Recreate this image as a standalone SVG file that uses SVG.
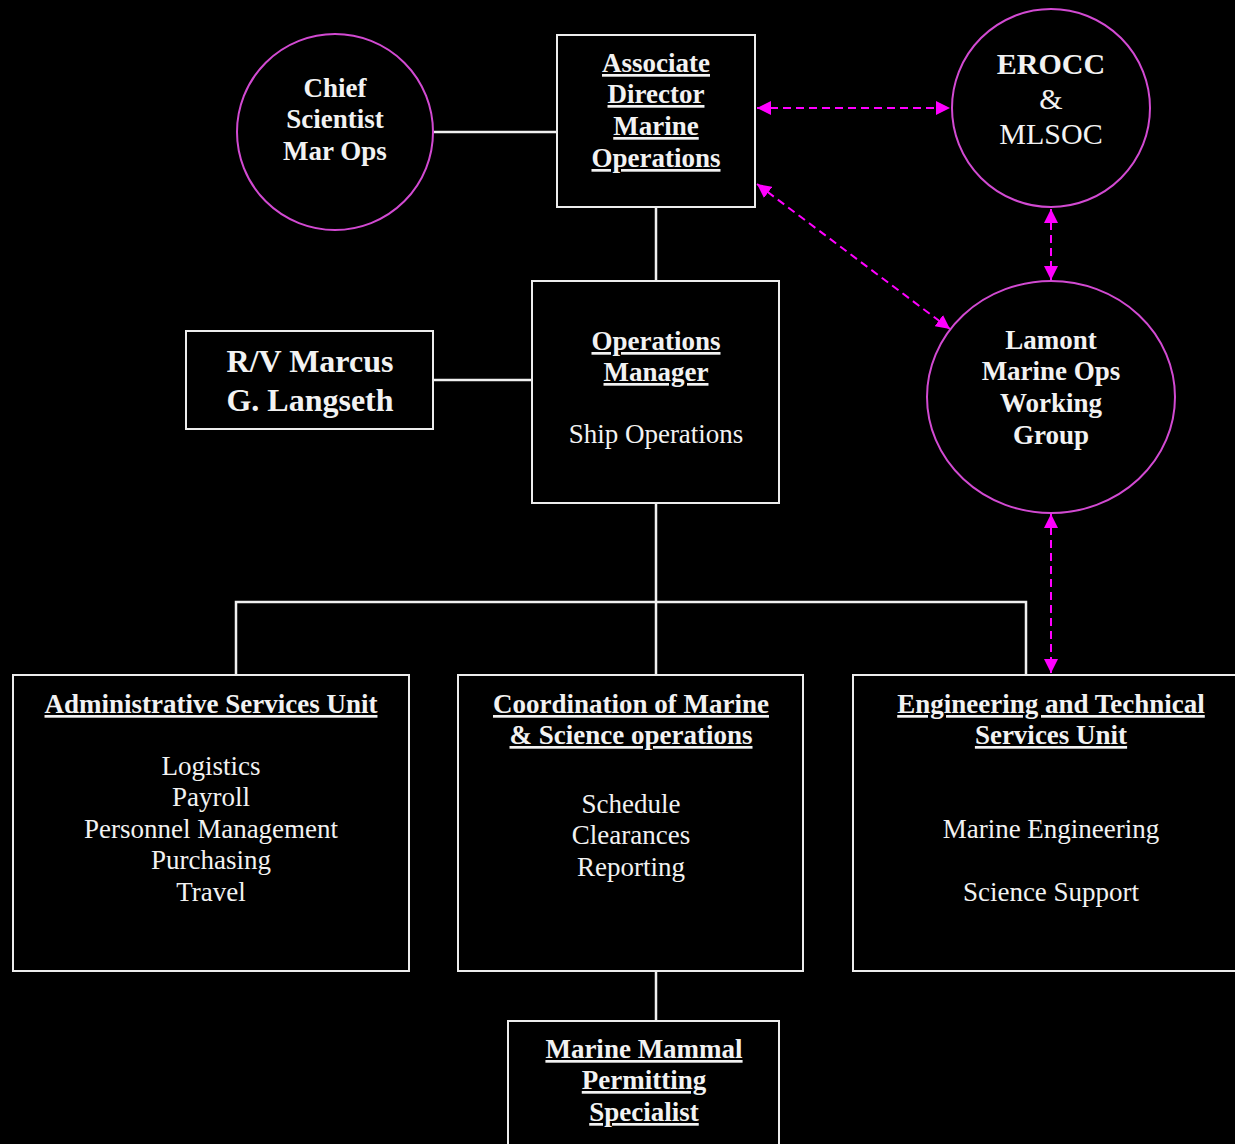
<svg xmlns="http://www.w3.org/2000/svg" width="1235" height="1144" viewBox="0 0 1235 1144">
<defs>
<marker id="ah" viewBox="0 0 10 10" refX="10" refY="5" markerWidth="7" markerHeight="7" markerUnits="strokeWidth" orient="auto-start-reverse">
<path d="M0,0 L10,5 L0,10 z" fill="#ff00ff"/>
</marker>
<style>
.box{fill:#000;stroke:#ececec;stroke-width:2}
.circ{fill:#000;stroke:#d24ad2;stroke-width:2}
.ln{stroke:#f0f0f0;stroke-width:2.5;fill:none}
.dash{stroke:#ff00ff;stroke-width:2;stroke-dasharray:8 5;fill:none}
text{font-family:"Liberation Serif","Times New Roman",serif;fill:#f2f2f2;text-anchor:middle;font-size:27px}
.b{font-weight:bold}
.u{text-decoration:underline}
</style>
</defs>
<rect width="1235" height="1144" fill="#000"/>

<g id="connectors">
<line class="ln" x1="434" y1="132" x2="557" y2="132"/>
<line class="ln" x1="656" y1="207" x2="656" y2="281"/>
<line class="ln" x1="433" y1="380" x2="532" y2="380"/>
<line class="ln" x1="656" y1="503" x2="656" y2="675"/>
<polyline class="ln" points="236,675 236,602 1026,602 1026,675"/>
<line class="ln" x1="656" y1="971" x2="656" y2="1021"/>
<line class="dash" x1="757" y1="108" x2="950" y2="108" marker-start="url(#ah)" marker-end="url(#ah)"/>
<line class="dash" x1="757" y1="184" x2="950" y2="329" marker-start="url(#ah)" marker-end="url(#ah)"/>
<line class="dash" x1="1051" y1="209" x2="1051" y2="280" marker-start="url(#ah)" marker-end="url(#ah)"/>
<line class="dash" x1="1051" y1="514" x2="1051" y2="673" marker-start="url(#ah)" marker-end="url(#ah)"/>
</g>

<g id="chief">
<circle class="circ" cx="335" cy="132" r="98"/>
<text class="b" x="335" y="97">Chief</text>
<text class="b" x="335" y="128">Scientist</text>
<text class="b" x="335" y="160">Mar Ops</text>
</g>

<g id="assoc">
<rect class="box" x="557" y="35" width="198" height="172"/>
<text class="b u" x="656" y="72">Associate</text>
<text class="b u" x="656" y="103">Director</text>
<text class="b u" x="656" y="135">Marine</text>
<text class="b u" x="656" y="167">Operations</text>
</g>

<g id="erocc">
<circle class="circ" cx="1051" cy="108" r="99"/>
<text class="b" x="1051" y="74" style="font-size:30px">EROCC</text>
<text x="1051" y="109" style="font-size:30px">&amp;</text>
<text x="1051" y="144" style="font-size:30px">MLSOC</text>
</g>

<g id="lamont">
<ellipse class="circ" cx="1051" cy="397" rx="124" ry="116"/>
<text class="b" x="1051" y="349">Lamont</text>
<text class="b" x="1051" y="380">Marine Ops</text>
<text class="b" x="1051" y="412">Working</text>
<text class="b" x="1051" y="444">Group</text>
</g>

<g id="opsmgr">
<rect class="box" x="532" y="281" width="247" height="222"/>
<text class="b u" x="656" y="350">Operations</text>
<text class="b u" x="656" y="381">Manager</text>
<text x="656" y="443">Ship Operations</text>
</g>

<g id="rv">
<rect class="box" x="186" y="331" width="247" height="98"/>
<text class="b" x="310" y="372" style="font-size:32px">R/V Marcus</text>
<text class="b" x="310" y="411" style="font-size:32px">G. Langseth</text>
</g>

<g id="admin">
<rect class="box" x="13" y="675" width="396" height="296"/>
<text class="b u" x="211" y="713">Administrative Services Unit</text>
<text x="211" y="775">Logistics</text>
<text x="211" y="806">Payroll</text>
<text x="211" y="838">Personnel Management</text>
<text x="211" y="869">Purchasing</text>
<text x="211" y="901">Travel</text>
</g>

<g id="coord">
<rect class="box" x="458" y="675" width="345" height="296"/>
<text class="b u" x="631" y="713">Coordination of Marine</text>
<text class="b u" x="631" y="744">&amp; Science operations</text>
<text x="631" y="813">Schedule</text>
<text x="631" y="844">Clearances</text>
<text x="631" y="876">Reporting</text>
</g>

<g id="eng">
<rect class="box" x="853" y="675" width="400" height="296"/>
<text class="b u" x="1051" y="713">Engineering and Technical</text>
<text class="b u" x="1051" y="744">Services Unit</text>
<text x="1051" y="838">Marine Engineering</text>
<text x="1051" y="901">Science Support</text>
</g>

<g id="mammal">
<rect class="box" x="508" y="1021" width="271" height="140"/>
<text class="b u" x="644" y="1058">Marine Mammal</text>
<text class="b u" x="644" y="1089">Permitting</text>
<text class="b u" x="644" y="1121">Specialist</text>
</g>
</svg>
